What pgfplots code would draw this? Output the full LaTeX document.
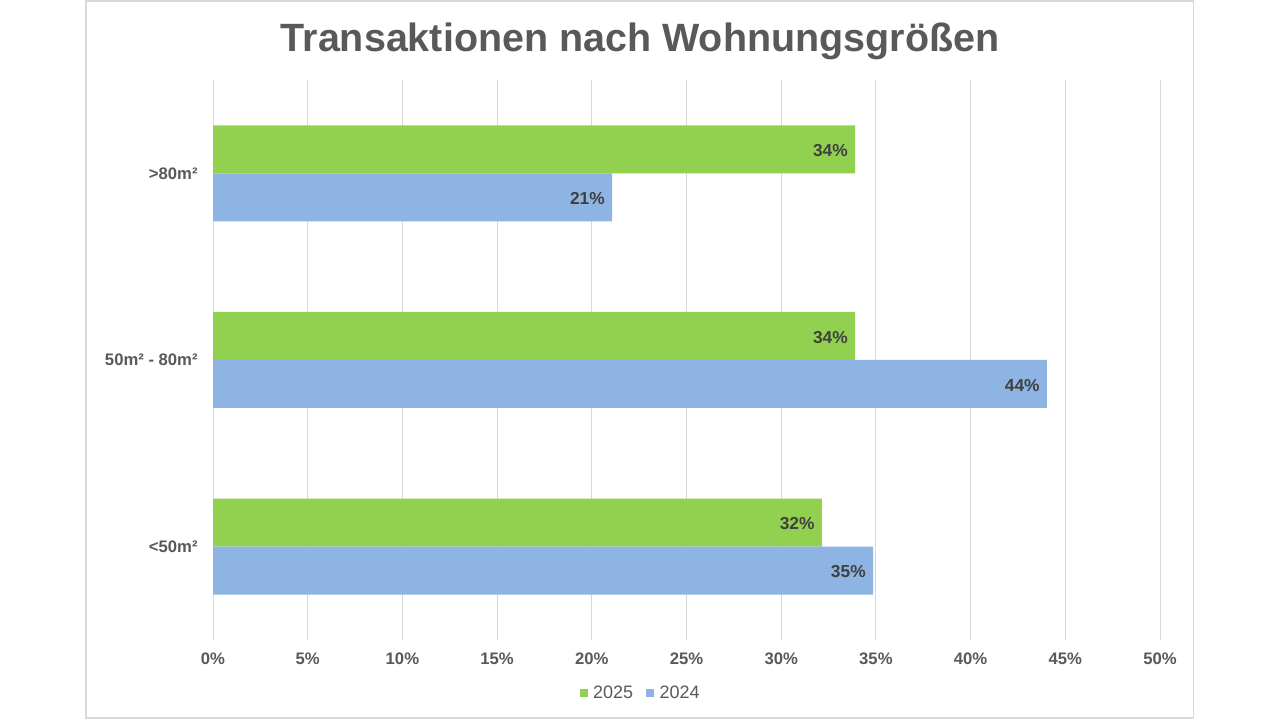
\documentclass[border=0pt]{standalone}
\usepackage{pgfplots}
\pgfplotsset{compat=1.18}
\usepackage{fontspec}
\setmainfont{Liberation Sans}
\definecolor{cgreen}{HTML}{92D050}
\definecolor{cblue}{HTML}{8EB4E3}
\definecolor{cgrid}{HTML}{D9D9D9}
\definecolor{ctext}{HTML}{595959}
\definecolor{clabel}{HTML}{404040}
\begin{document}
\begin{tikzpicture}
\path[use as bounding box] (0,0) rectangle (960pt,540pt);
\fill[white] (0,0) rectangle (960pt,540pt);
\draw[cgrid, line width=1pt] (64.5pt,1.5pt) rectangle (895pt,539.25pt);
\node[font=\bfseries\fontsize{29.6}{34}\selectfont, text=ctext] at (480pt,509pt) {Transaktionen nach Wohnungsgrößen};
\begin{axis}[
  at={(159.75pt,60pt)}, anchor=south west,
  scale only axis, width=710.25pt, height=420pt,
  xbar, bar width=36pt,
  xmin=0, xmax=50, ymin=-0.5, ymax=2.5,
  xtick={0,5,...,50},
  xticklabel={\pgfmathprintnumber{\tick}\%},
  /pgf/number format/assume math mode=true,
  ytick={0,1,2}, yticklabels={<50m², 50m² - 80m², >80m²},
  xmajorgrids, major grid style={cgrid, line width=0.75pt},
  axis line style={draw=none}, major tick length=0pt,
  tick label style={font=\bfseries\fontsize{12.5}{15}\selectfont, text=ctext},
  xticklabel style={yshift=-6pt},
  yticklabel style={xshift=-8pt},
  point meta=x,
  nodes near coords={\pgfmathprintnumber[precision=0]{\pgfplotspointmeta}\%},
  nodes near coords style={anchor=east, xshift=-2pt, yshift=-1pt, font=\bfseries\fontsize{13}{15}\selectfont, text=clabel},
  legend style={at={(0.452,-0.095)}, anchor=center, legend columns=2, draw=none, fill=none,
    font=\fontsize{13.5}{16}\selectfont, text=ctext, /tikz/every even column/.append style={column sep=8pt}},
  legend image code/.code={\fill[#1] (0pt,-3pt) rectangle (6pt,3pt); \path (0pt,0pt) -- (8pt,0pt);},
  clip=false,
]
\addplot[fill=cgreen, draw=none, bar shift=18pt] coordinates {(32.15,0) (33.9,1) (33.9,2)};
\addplot[fill=cblue, draw=none, bar shift=-18pt] coordinates {(34.85,0) (44.03,1) (21.07,2)};
\legend{2025,2024}
\end{axis}
\end{tikzpicture}
\end{document}
